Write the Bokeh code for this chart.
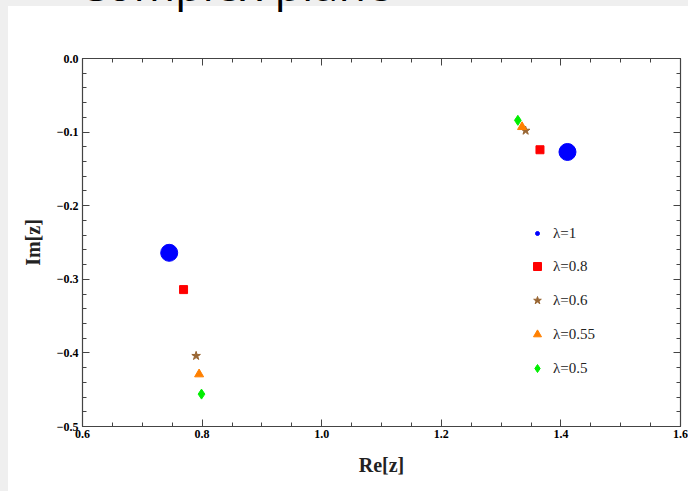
from bokeh.plotting import figure
from bokeh.layouts import column
from bokeh.models import (FixedTicker, LinearAxis, Range1d, Legend, LegendItem,
                          Div, CustomJSTickFormatter)
from bokeh.embed import file_html
from bokeh.resources import INLINE

# ---- data ----
slide_title = "Complex plane"
series_labels = ["λ=1", "λ=0.8", "λ=0.6", "λ=0.55", "λ=0.5"]
re_l1 = [0.745, 1.411]
im_l1 = [-0.264, -0.127]
re_l08 = [0.769, 1.365]
im_l08 = [-0.314, -0.124]
re_l06 = [0.790, 1.341]
im_l06 = [-0.404, -0.098]
re_l055 = [0.795, 1.335]
im_l055 = [-0.429, -0.093]
re_l05 = [0.799, 1.328]
im_l05 = [-0.456, -0.084]

x_ticks = [0.6, 0.8, 1.0, 1.2, 1.4, 1.6]
x_minor = [round(0.6 + 0.05 * i, 2) for i in range(21)]
y_ticks = [-0.5, -0.4, -0.3, -0.2, -0.1, 0.0]
y_minor = [round(-0.5 + 0.02 * i, 2) for i in range(26)]

FRAME_COL = "#444444"
SERIF = "Liberation Serif"
GRAY = "#efefef"
HEAD_H = 14

fig = figure(frame_width=598, frame_height=368,
             min_border_left=82, min_border_right=8, min_border_top=58 - HEAD_H,
             min_border_bottom=65,
             x_range=Range1d(0.6, 1.6), y_range=Range1d(-0.5, 0.0),
             output_backend="svg", toolbar_location=None,
             x_axis_label="Re[z]", y_axis_label="Im[z]")
fig.background_fill_color = "white"
fig.border_fill_color = None
fig.outline_line_color = None
fig.grid.visible = False

minus_fmt = CustomJSTickFormatter(code="return tick.toFixed(1).replace('-', '\u2212');")
blank_fmt = CustomJSTickFormatter(code="return '';")

def style_axis(ax):
    ax.axis_line_color = FRAME_COL
    ax.axis_line_width = 1.2
    ax.major_tick_line_color = FRAME_COL
    ax.minor_tick_line_color = FRAME_COL
    ax.major_tick_in = 7
    ax.major_tick_out = 0
    ax.minor_tick_in = 4
    ax.minor_tick_out = 0
    ax.major_label_text_font = SERIF
    ax.major_label_text_font_style = "bold"
    ax.major_label_text_font_size = "12px"
    ax.major_label_text_color = "black"
    ax.axis_label_text_font = SERIF
    ax.axis_label_text_font_style = "bold"
    ax.axis_label_text_font_size = "20px"
    ax.axis_label_text_color = "#222222"

xb = fig.xaxis[0]
xb.ticker = FixedTicker(ticks=x_ticks, minor_ticks=x_minor)
xb.formatter = minus_fmt
style_axis(xb)
xb.major_label_standoff = 3
xb.axis_label_standoff = 13

yl = fig.yaxis[0]
yl.ticker = FixedTicker(ticks=y_ticks, minor_ticks=y_minor)
yl.formatter = minus_fmt
style_axis(yl)
yl.major_label_standoff = 4
yl.axis_label_standoff = 10

xt = LinearAxis(ticker=FixedTicker(ticks=x_ticks, minor_ticks=x_minor), formatter=blank_fmt)
style_axis(xt)
xt.major_label_standoff = 0
fig.add_layout(xt, "above")
yr = LinearAxis(ticker=FixedTicker(ticks=y_ticks, minor_ticks=y_minor), formatter=blank_fmt)
style_axis(yr)
yr.major_label_standoff = 0
fig.add_layout(yr, "right")

# ---- data markers ----
fig.scatter(re_l1, im_l1, marker="circle", size=17, color="#0000ff")
fig.scatter(re_l08, im_l08, marker="square", size=8, color="#ff0000")
fig.scatter(re_l06, im_l06, marker="star", size=9, color="#996633")
fig.scatter(re_l055, im_l055, marker="triangle", size=9, color="#ff8000")
fig.scatter(re_l05, im_l05, marker="diamond", size=10, color="#00ee00")

# legend-only renderers (points placed outside the visible range)
off_x = [-10.0]
off_y = [-10.0]
lg1 = fig.scatter(off_x, off_y, marker="circle", color="#0000ff")
lg2 = fig.scatter(off_x, off_y, marker="square", color="#ff0000")
lg3 = fig.scatter(off_x, off_y, marker="star", color="#996633")
lg4 = fig.scatter(off_x, off_y, marker="triangle", color="#ff8000")
lg5 = fig.scatter(off_x, off_y, marker="diamond", color="#00ee00")

def mk_legend(items, loc, gw, standoff):
    return Legend(items=items, location=loc, glyph_width=gw, glyph_height=20,
                  label_height=20, spacing=14, padding=0, margin=0,
                  label_standoff=standoff, border_line_color=None,
                  background_fill_alpha=0, label_text_font=SERIF,
                  label_text_font_size="15px", label_text_color="#222222")

leg1 = mk_legend([LegendItem(label=series_labels[0], renderers=[lg1])],
                 (450, 426 - 233 - 10), 10, 11)
leg2 = mk_legend([LegendItem(label=series_labels[i + 1], renderers=[r])
                  for i, r in enumerate([lg2, lg3, lg4, lg5])],
                 (445, 426 - 368 - 10), 20, 6)
fig.add_layout(leg1, "center")
fig.add_layout(leg2, "center")

# slide header: the title is cut off by the top of the window
head = Div(text='<div style="position:relative; top:-39px; left:78px; white-space:nowrap;">'
                + slide_title + '</div>',
           width=688, height=HEAD_H, margin=0,
           styles={"font-family": "Open Sans", "font-size": "45px", "line-height": "1",
                   "color": "black", "overflow": "hidden",
                   "background": "linear-gradient(to right, %s 8px, transparent 8px), "
                                 "linear-gradient(%s 6px, white 6px)" % (GRAY, GRAY)})

p = column(head, fig, spacing=0,
           styles={"background": "linear-gradient(to right, %s 8px, white 8px)" % GRAY})

open("out.html", "w").write(file_html(p, INLINE))
